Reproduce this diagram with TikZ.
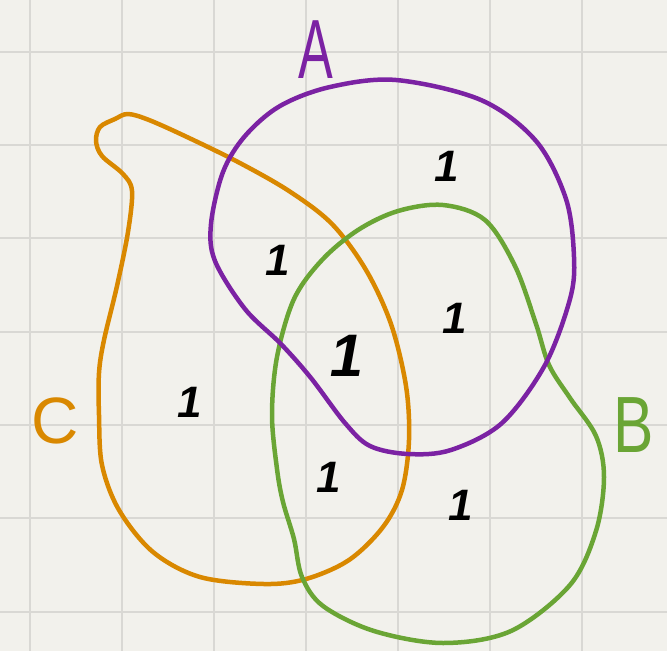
\documentclass[tikz,border=0pt]{standalone}
\usepackage{fontspec}
\setmainfont{Liberation Sans}
\definecolor{paper}{HTML}{F2F1EC}
\definecolor{gridc}{HTML}{D9D8D4}
\definecolor{setA}{HTML}{7B22A3}
\definecolor{setB}{HTML}{6AA535}
\definecolor{setC}{HTML}{D98800}
\tikzset{
  curveA/.style={draw=setA, line width=4.5pt, line join=round, line cap=round},
  curveB/.style={draw=setB, line width=4.5pt, line join=round, line cap=round},
  curveC/.style={draw=setC, line width=4.5pt, line join=round, line cap=round},
  gridline/.style={draw=gridc, line width=2pt},
  one/.style={font=\fontsize{44}{44}\selectfont\bfseries, text=black, inner sep=0pt, xslant=0.18},
  setlabel/.style={font=\fontsize{84}{84}\selectfont, inner sep=0pt}
}
\begin{document}
\begin{tikzpicture}[x=1pt,y=-1pt]
\fill[paper] (0,0) rectangle (667,651);
\useasboundingbox (0,0) rectangle (667,651);
% grid
\foreach \gx in {30,122,214,306,398,490,582}{\draw[gridline] (\gx,0) -- (\gx,651);}
\foreach \gy in {52,145,238,332,425,518,612}{\draw[gridline] (0,\gy) -- (667,\gy);}
% C (orange)
\draw[curveC] plot[smooth cycle, tension=0.55] coordinates {
 (128,114) (149,120) (187,137) (238,162) (289,191) (332,224) (366,270)
 (391,324) (406,386) (409,440) (402,490) (383,527) (349,560) (306,579)
 (264,584) (200,577) (153,552) (119,510) (102,465) (99,415) (99,373)
 (104,340) (117,286) (128,232) (132,191) (123,174) (102,156) (96,141)
 (100,127) (115,119)};
% B (green)
\draw[curveB] plot[smooth cycle, tension=0.55] coordinates {
 (443,205) (485,220) (515,266) (536,324) (549,365) (570,398) (596,436)
 (604,477) (596,531) (570,585) (511,631) (443,643) (374,631) (323,606)
 (302,577) (294,539) (283,502) (277,469) (272,415) (277,357) (294,299)
 (322,260) (358,230) (398,211)};
% A (purple)
\draw[curveA] plot[smooth cycle, tension=0.55] coordinates {
 (211,224) (215,261) (245,309) (281,344) (311,378) (345,423) (370,446)
 (408,454) (451,450) (502,423) (545,365) (570,299) (574,257) (566,199)
 (536,141) (481,100) (396,80) (330,87) (280,106) (245,136) (223,172)};
% labels
\node[setlabel, text=setA, xscale=0.62] (labA) at (316,50) {A};
\node[setlabel, text=setB, xscale=0.72, yscale=0.95] (labB) at (634,425) {B};
\node[setlabel, text=setC, scale=0.78] (labC) at (55,421) {C};
% region counts
\node[one] (n1) at (447,166) {1};
\node[one] (n2) at (278,260) {1};
\node[one] (n3) at (455,318) {1};
\node[one, font=\fontsize{60}{60}\selectfont\bfseries] (n4) at (348,356) {1};
\node[one] (n5) at (190,402) {1};
\node[one] (n6) at (329,477) {1};
\node[one] (n7) at (461,505) {1};
\end{tikzpicture}
\end{document}
